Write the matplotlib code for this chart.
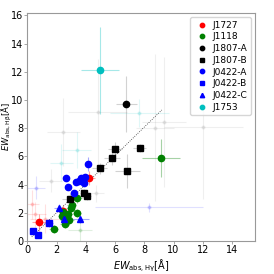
import numpy as np
import matplotlib.pyplot as plt

# main measurements: (EW Hgamma, EW Hbeta, x error, y error)
j1727_x = [0.79, 4.22, 2.47]
j1727_y = [1.33, 4.49, 2.15]
j1727_xe = [0.5, 0.4, 0.4]
j1727_ye = [0.6, 0.5, 0.4]

j1118_x = [1.79, 2.47, 2.40, 2.56, 2.54, 2.86, 2.81, 2.95, 3.04, 3.40, 3.42, 9.16]
j1118_y = [0.85, 2.08, 1.79, 1.23, 1.47, 1.47, 1.94, 2.36, 2.55, 1.99, 3.03, 5.91]
j1118_xe = [0.3, 0.3, 0.3, 0.3, 0.3, 0.3, 0.3, 0.3, 0.3, 0.3, 0.3, 1.3]
j1118_ye = [0.3, 0.3, 0.3, 0.3, 0.3, 0.3, 0.3, 0.3, 0.3, 0.3, 0.3, 1.35]

j1807a_x = [6.78]
j1807a_y = [9.72]
j1807a_xe = [0.75]
j1807a_ye = [2.0]

j1807b_x = [2.90, 3.90, 4.06, 4.94, 5.76, 5.99, 6.83, 7.69]
j1807b_y = [2.98, 3.40, 3.19, 5.16, 5.91, 6.50, 4.96, 6.60]
j1807b_xe = [0.5, 0.3, 0.3, 0.5, 0.55, 0.5, 0.85, 0.45]
j1807b_ye = [0.4, 0.3, 0.3, 0.4, 0.5, 0.5, 1.2, 0.3]

j0422a_x = [2.65, 2.81, 3.17, 3.34, 3.54, 3.65, 3.76, 3.92, 3.81, 3.88, 4.15]
j0422a_y = [4.45, 3.81, 3.40, 4.18, 4.28, 4.45, 4.42, 4.52, 4.30, 4.11, 5.48]
j0422a_xe = [0.2] * 11
j0422a_ye = [0.2, 0.2, 0.2, 0.2, 0.2, 0.2, 0.2, 0.2, 0.2, 0.2, 0.5]

j0422b_x = [0.41, 0.75, 1.45]
j0422b_y = [0.69, 0.45, 1.28]
j0422b_xe = [0.2, 0.2, 0.3]
j0422b_ye = [0.2, 0.2, 0.3]

j0422c_x = [2.15, 2.52, 3.60]
j0422c_y = [2.34, 1.60, 1.56]
j0422c_xe = [0.3, 0.3, 0.6]
j0422c_ye = [0.3, 0.3, 0.3]

j1753_x = [4.94]
j1753_y = [12.1]
j1753_xe = [1.3]
j1753_ye = [3.1]

# low significance measurements, drawn faintly
faint_x = [2.47, 4.81, 8.75, 9.33, 12.05, 8.33, 7.67, 3.36, 2.33, 0.5, 1.2, 0.3, 4.67, 1.59, 0.6, 3.6]
faint_y = [7.75, 9.13, 8.05, 8.42, 8.10, 2.39, 9.10, 6.45, 5.55, 1.9, 1.6, 2.6, 3.40, 4.28, 3.8, 0.8]
faint_xe = [1.1, 2.0, 1.3, 1.5, 2.7, 3.7, 2.0, 1.0, 0.8, 0.8, 1.0, 0.5, 0.6, 0.8, 0.6, 0.8]
faint_ye = [2.4, 3.8, 5.2, 4.6, 5.1, 0.3, 1.0, 1.3, 1.3, 0.9, 1.0, 1.0, 0.6, 0.8, 0.8, 0.8]
faint_c = ['gray', 'gray', 'gray', 'gray', 'gray', 'blue', 'c', 'c', 'c',
           'red', 'red', 'red', 'gray', 'gray', 'blue', 'green']

groups = [
    ('J1727', j1727_x, j1727_y, j1727_xe, j1727_ye, 'red', 'o'),
    ('J1118', j1118_x, j1118_y, j1118_xe, j1118_ye, 'green', 'o'),
    ('J1807-A', j1807a_x, j1807a_y, j1807a_xe, j1807a_ye, 'black', 'o'),
    ('J1807-B', j1807b_x, j1807b_y, j1807b_xe, j1807b_ye, 'black', 's'),
    ('J0422-A', j0422a_x, j0422a_y, j0422a_xe, j0422a_ye, 'blue', 'o'),
    ('J0422-B', j0422b_x, j0422b_y, j0422b_xe, j0422b_ye, 'blue', 's'),
    ('J0422-C', j0422c_x, j0422c_y, j0422c_xe, j0422c_ye, 'blue', '^'),
    ('J1753', j1753_x, j1753_y, j1753_xe, j1753_ye, 'c', 'o'),
]

fig = plt.figure(figsize=(2.74, 2.74), dpi=100)
ax = fig.add_axes([0.100, 0.12, 0.832, 0.834])

for x, y, xe, ye, c in zip(faint_x, faint_y, faint_xe, faint_ye, faint_c):
    ax.errorbar(x, y, xerr=xe, yerr=ye, fmt='o', color=c, ms=2, lw=0.8, alpha=0.12)

for label, x, y, xe, ye, c, m in groups:
    ecol = 'gray' if c == 'black' else c
    ax.errorbar(x, y, xerr=xe, yerr=ye, fmt='none', ecolor=ecol, lw=0.8, alpha=0.35)
    ax.plot(x, y, m, color=c, ms=4.5, ls='none', label=label, zorder=3)

ax.plot([0.3, 9.2], [0.3, 9.3], ls=':', color='k', lw=0.6, alpha=0.8)

ax.set_xlim(0, 15.6)
ax.set_ylim(0, 16.2)
ax.set_xticks(np.arange(0, 15, 2))
ax.set_yticks(np.arange(0, 17, 2))
ax.tick_params(length=2, width=0.6, color='#999999', labelsize=7, pad=1)
for s in ax.spines.values():
    s.set_color('#999999')
ax.set_xlabel(r'$EW_{\rm abs,H\gamma}$[Å]', fontsize=7, labelpad=2)
ax.set_ylabel(r'$EW_{\rm abs,H\beta}$[Å]', fontsize=6)
ax.yaxis.set_label_coords(-0.058, 0.5)
ax.legend(loc='upper right', fontsize=6.5, handletextpad=0.3, borderpad=0.4,
          labelspacing=0.3, markerscale=0.7, handlelength=1.8)

fig.savefig('out.png', dpi=100)
